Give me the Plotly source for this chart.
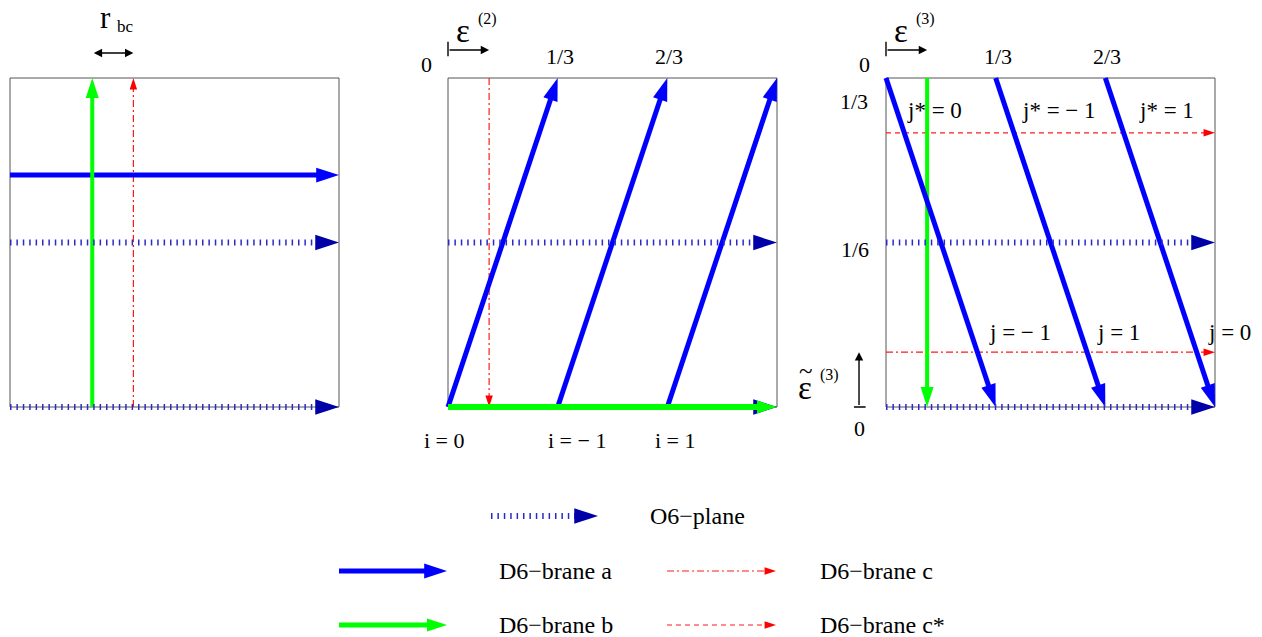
import plotly.graph_objects as go

W, H = 1262, 637
SERIF = "Liberation Serif"

# ---- data (in units of one torus cell, (0,0) = bottom left) ----
O6_Y = [0.0, 0.5]

T1_A_Y = 0.705          # brane a, first torus
T1_B_X = 0.25           # brane b
T1_C_X = 0.375          # brane c

T2_A_FOOT = [0.0, 1/3, 2/3]   # brane a images, second torus (bottom)
T2_A_HEAD = [1/3, 2/3, 1.0]   # (top)
T2_C_X = 0.125

T3_A_FOOT = [0.0, 1/3, 2/3]   # brane a images, third torus (top)
T3_A_HEAD = [1/3, 2/3, 1.0]   # (bottom)
T3_B_X = 0.125
T3_C_Y = 1/6
T3_CSTAR_Y = 5/6

TOP_TICKS = ["0", "1/3", "2/3"]
TOP_TICK_X = [-0.064, 0.34, 0.672]
TOP_TICK_Y = [1.04, 1.064, 1.064]

I_LABELS = ["i = 0", "i = − 1", "i = 1"]
I_X = [-0.012, 0.392, 0.69]

JSTAR_LABELS = ["j* = 0", "j* = − 1", "j* = 1"]
JSTAR_X = [0.146, 0.526, 0.854]
J_LABELS = ["j = − 1", "j = 1", "j = 0"]
J_X = [0.407, 0.708, 1.043]

LEFT_TICKS = ["1/3", "1/6", "0"]
LEFT_TICK_X = [-0.097, -0.094, -0.082]
LEFT_TICK_Y = [0.93, 0.48, -0.064]

LEGEND_LABELS = ["O6−plane", "D6−brane a", "D6−brane c", "D6−brane b", "D6−brane c*"]
LEGEND_KINDS = ["o6", "a", "c", "b", "cstar"]

# ---- styles / layout ----
STYLE = {
    "o6":    dict(color="#2a2acc", width=6, dash="1.5px,4.9px", head="#0000a8", size=25),
    "a":     dict(color="#0000ff", width=5, dash="solid", head="#0000ff", size=24),
    "b":     dict(color="#00ff00", width=5, dash="solid", head="#00ff00", size=21),
    "c":     dict(color="#ff1a1a", width=1.2, dash="7px,3px,2px,3px", head="#ff0000", size=12),
    "cstar": dict(color="#ff1a1a", width=1.2, dash="5px,4px", head="#ff0000", size=12),
}
PANEL_LEFT = [10, 448, 886]
PANEL_TOP = 78
CELL = 329
X_RANGES = [(-0.03, 1.03), (-0.1, 1.03), (-0.3, 1.1)]
Y_RANGE = (-0.15, 1.22)
AX = [("x", "y"), ("x2", "y2"), ("x3", "y3")]
LEG_AX = ("x4", "y4")
LEG_SAMPLE = [(491, 598, 516), (339, 447, 571), (667, 776, 571), (339, 447, 625), (667, 776, 625)]
LEG_TEXT_X = [648, 497, 818, 497, 818]


def brane(x, y, kind, ax, width=None):
    s = STYLE[kind]
    return go.Scatter(
        x=x, y=y, xaxis=ax[0], yaxis=ax[1], mode="lines+markers",
        line=dict(color=s["color"], width=width or s["width"], dash=s["dash"]),
        marker=dict(symbol="arrow", size=[0, s["size"]], angleref="previous",
                    color=s["head"], opacity=1, line=dict(width=0)),
        cliponaxis=False, hoverinfo="skip", showlegend=False)


def label(text, x, y, ax, size=22, xanchor="center"):
    return dict(text=text, x=x, y=y, xref=ax[0], yref=ax[1], showarrow=False,
                font=dict(family=SERIF, size=size, color="black"),
                xanchor=xanchor, yanchor="middle")


def pointer(x0, y0, x1, y1, ax, head=2, side="end"):
    return dict(text=" ", font=dict(size=1), x=x1, y=y1, ax=x0, ay=y0,
                xref=ax[0], yref=ax[1], axref=ax[0], ayref=ax[1],
                showarrow=True, arrowhead=head, startarrowhead=head, arrowside=side,
                arrowsize=1.2, arrowwidth=1.4, arrowcolor="black",
                standoff=0, startstandoff=0)


fig = go.Figure()

# torus 1
fig.add_trace(brane([T1_C_X, T1_C_X], [0, 1], "c", AX[0]))
fig.add_trace(brane([0, 1], [T1_A_Y, T1_A_Y], "a", AX[0]))
fig.add_trace(brane([T1_B_X, T1_B_X], [0, 1], "b", AX[0], width=4))

# torus 2
fig.add_trace(brane([T2_C_X, T2_C_X], [1, 0], "c", AX[1]))
for x0, x1 in zip(T2_A_FOOT, T2_A_HEAD):
    fig.add_trace(brane([x0, x1], [0, 1], "a", AX[1]))

# torus 3
fig.add_trace(brane([0, 1], [T3_CSTAR_Y, T3_CSTAR_Y], "cstar", AX[2]))
fig.add_trace(brane([0, 1], [T3_C_Y, T3_C_Y], "c", AX[2]))
fig.add_trace(brane([T3_B_X, T3_B_X], [1, 0], "b", AX[2], width=4))
for x0, x1 in zip(T3_A_FOOT, T3_A_HEAD):
    fig.add_trace(brane([x0, x1], [1, 0], "a", AX[2]))

# O6-planes
for ax in AX:
    for yo in O6_Y:
        fig.add_trace(brane([0, 1], [yo, yo], "o6", ax))

# brane b of torus 2 lies on the O6-plane, its head shows on top
fig.add_trace(brane([0, 1], [0, 0], "b", AX[1], width=6))

# legend samples
for kind, (x0, x1, yy) in zip(LEGEND_KINDS, LEG_SAMPLE):
    fig.add_trace(brane([x0, x1], [yy, yy], kind, LEG_AX))

ann = []
# torus 1: r_bc
ann.append(pointer(T1_B_X, 1.076, T1_C_X, 1.076, AX[0], side="end+start"))
ann.append(label("r", 0.29, 1.185, AX[0], size=31))
ann.append(label("bc", 0.35, 1.158, AX[0], size=17))

# torus 2
for t, x, y in zip(TOP_TICKS, TOP_TICK_X, TOP_TICK_Y):
    ann.append(label(t, x, y, AX[1]))
for t, x in zip(I_LABELS, I_X):
    ann.append(label(t, x, -0.103, AX[1]))
ann.append(pointer(0, 1.085, T2_C_X, 1.085, AX[1]))
ann.append(pointer(0, 1.06, 0, 1.11, AX[1], head=0))
ann.append(label("ε", 0.046, 1.143, AX[1], size=33))
ann.append(label("(2)", 0.12, 1.179, AX[1], size=16))

# torus 3
for t, x, y in zip(TOP_TICKS, TOP_TICK_X, TOP_TICK_Y):
    ann.append(label(t, x, y, AX[2]))
for t, x, y in zip(LEFT_TICKS, LEFT_TICK_X, LEFT_TICK_Y):
    ann.append(label(t, x, y, AX[2]))
for t, x in zip(JSTAR_LABELS, JSTAR_X):
    ann.append(label(t, x, 0.9, AX[2], size=23))
for t, x in zip(J_LABELS, J_X):
    ann.append(label(t, x, 0.225, AX[2], size=23))
ann.append(pointer(0, 1.085, T3_B_X, 1.085, AX[2]))
ann.append(pointer(0, 1.06, 0, 1.11, AX[2], head=0))
ann.append(label("ε", 0.046, 1.143, AX[2], size=33))
ann.append(label("(3)", 0.12, 1.179, AX[2], size=16))
ann.append(pointer(-0.082, 0, -0.082, T3_C_Y, AX[2]))
ann.append(pointer(-0.102, 0, -0.062, 0, AX[2], head=0))
ann.append(label("ε", -0.246, 0.058, AX[2], size=33))
ann.append(label("~", -0.243, 0.112, AX[2], size=25))
ann.append(label("(3)", -0.172, 0.096, AX[2], size=16))

# legend texts
for t, x, (_, _, yy) in zip(LEGEND_LABELS, LEG_TEXT_X, LEG_SAMPLE):
    ann.append(label(t, x, yy, LEG_AX, size=24, xanchor="left"))

shapes = [dict(type="rect", xref=ax[0], yref=ax[1], x0=0, x1=1, y0=0, y1=1,
               line=dict(color="#555555", width=1), layer="below") for ax in AX]

layout = dict(width=W, height=H, margin=dict(l=0, r=0, t=0, b=0),
              plot_bgcolor="rgba(0,0,0,0)", paper_bgcolor="white",
              annotations=ann, shapes=shapes, showlegend=False)
for i, (left, xr) in enumerate(zip(PANEL_LEFT, X_RANGES)):
    sfx = "" if i == 0 else str(i + 1)
    xd = [(left + xr[0] * CELL) / W, (left + xr[1] * CELL) / W]
    top_px = PANEL_TOP - (Y_RANGE[1] - 1) * CELL
    bot_px = PANEL_TOP + (1 - Y_RANGE[0]) * CELL
    yd = [1 - bot_px / H, 1 - top_px / H]
    layout["xaxis" + sfx] = dict(domain=xd, range=list(xr), visible=False,
                                 anchor="y" + sfx)
    layout["yaxis" + sfx] = dict(domain=yd, range=list(Y_RANGE), visible=False,
                                 anchor="x" + sfx)
layout["xaxis4"] = dict(domain=[0, 1], range=[0, W], visible=False, anchor="y4")
layout["yaxis4"] = dict(domain=[0, 1], range=[H, 0], visible=False, anchor="x4")

fig.update_layout(**layout)
fig.write_html("out.html", config={"displayModeBar": False},
               post_script="document.body.style.margin='0';document.body.style.overflow='hidden';")
